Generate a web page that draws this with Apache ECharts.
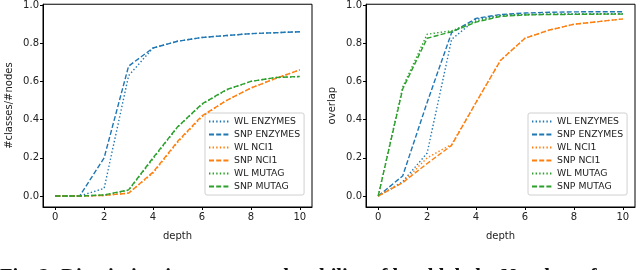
<!DOCTYPE html>
<html>
<head>
<meta charset="utf-8">
<script src="https://cdn.jsdelivr.net/npm/echarts@6/dist/echarts.min.js"></script>
<style>
html,body{margin:0;padding:0;background:#fff;}
#c{width:640px;height:270px;}
</style>
</head>
<body>
<div id="c"></div>
<script>
// ---- data ----
const depths = [0, 1, 2, 3, 4, 5, 6, 7, 8, 9, 10];
const xTicks = [0, 2, 4, 6, 8, 10];
const yTicks = [0, 0.2, 0.4, 0.6, 0.8, 1.0];
const seriesNames = ['WL ENZYMES', 'SNP ENZYMES', 'WL NCI1', 'SNP NCI1', 'WL MUTAG', 'SNP MUTAG'];
const leftYName = '#classes/#nodes';
const rightYName = 'overlap';
const xName = 'depth';
const caption = 'Fig. 2: Discriminative power and stability of local labels: Number of';

// left panel: #classes/#nodes
const wlEnzA  = [0, 0, 0.04, 0.63, 0.775, 0.81, 0.83, 0.84, 0.85, 0.855, 0.86];
const snpEnzA = [0, 0, 0.20, 0.68, 0.775, 0.81, 0.83, 0.84, 0.85, 0.855, 0.86];
const wlNciA  = [0, 0, 0.003, 0.015, 0.12, 0.28, 0.415, 0.50, 0.565, 0.615, 0.66];
const snpNciA = [0, 0, 0.003, 0.015, 0.125, 0.285, 0.42, 0.50, 0.565, 0.615, 0.66];
const wlMutA  = [0, 0, 0.005, 0.03, 0.195, 0.36, 0.48, 0.555, 0.60, 0.62, 0.625];
const snpMutA = [0, 0, 0.006, 0.032, 0.20, 0.362, 0.482, 0.557, 0.60, 0.62, 0.626];

// right panel: overlap
const wlEnzB  = [0, 0.075, 0.225, 0.82, 0.925, 0.945, 0.95, 0.952, 0.953, 0.954, 0.955];
const snpEnzB = [0, 0.105, 0.49, 0.855, 0.93, 0.95, 0.958, 0.962, 0.964, 0.965, 0.965];
const wlNciB  = [0, 0.07, 0.20, 0.27, 0.49, 0.71, 0.826, 0.869, 0.899, 0.913, 0.927];
const snpNciB = [0, 0.07, 0.17, 0.265, 0.49, 0.71, 0.826, 0.869, 0.899, 0.913, 0.927];
const wlMutB  = [0, 0.57, 0.847, 0.865, 0.915, 0.945, 0.95, 0.952, 0.952, 0.953, 0.953];
const snpMutB = [0, 0.56, 0.826, 0.86, 0.91, 0.94, 0.948, 0.95, 0.951, 0.952, 0.952];

const leftData = [wlEnzA, snpEnzA, wlNciA, snpNciA, wlMutA, snpMutA];
const rightData = [wlEnzB, snpEnzB, wlNciB, snpNciB, wlMutB, snpMutB];

// ---- styles ----
const colors = ['#1f77b4', '#1f77b4', '#ff7f0e', '#ff7f0e', '#2ca02c', '#2ca02c'];
const dotted = [1.4, 2.2];
const dashed = [5, 2.2];
const dashTypes = [dotted, dashed, dotted, dashed, dotted, dashed];
const FONT = 'DejaVu Sans';
const txt = '#222';

function mkX(gi) {
  return {
    type: 'value', gridIndex: gi, min: -0.5, max: 10.5,
    name: xName, nameLocation: 'middle', nameGap: 24,
    nameTextStyle: {fontFamily: FONT, fontSize: 10, color: txt},
    axisLine: {show: true, onZero: false, lineStyle: {color: '#000', width: 1}},
    axisTick: {show: true, length: 3, customValues: xTicks, lineStyle: {color: '#000'}},
    axisLabel: {customValues: xTicks, fontFamily: FONT, fontSize: 10, color: txt, margin: 5},
    splitLine: {show: false}
  };
}
function mkY(gi, name) {
  return {
    type: 'value', gridIndex: gi, min: -0.0575, max: 1.004,
    name: name, nameLocation: 'middle', nameGap: 29, nameRotate: 90,
    nameTextStyle: {fontFamily: FONT, fontSize: 10, color: txt},
    axisLine: {show: true, onZero: false, lineStyle: {color: '#000', width: 1}},
    axisTick: {show: true, length: 3, customValues: yTicks, lineStyle: {color: '#000'}},
    axisLabel: {customValues: yTicks, fontFamily: FONT, fontSize: 10, color: txt, margin: 4,
      formatter: v => v.toFixed(1)},
    splitLine: {show: false}
  };
}

const series = [];
[leftData, rightData].forEach((set, gi) => {
  set.forEach((vals, i) => {
    series.push({
      type: 'line', name: seriesNames[i], xAxisIndex: gi, yAxisIndex: gi,
      data: depths.map((d, k) => [d, vals[k]]),
      symbol: 'none', showSymbol: false, animation: false,
      lineStyle: {color: colors[i], width: 1.4, type: dashTypes[i]},
      itemStyle: {color: colors[i]},
      z: 2 + i
    });
  });
});

function mkLegend(left) {
  return {
    orient: 'vertical', left: left, top: 113,
    data: seriesNames,
    itemWidth: 20, itemHeight: 10, itemGap: 4,
    padding: [4, 4, 4, 3],
    backgroundColor: '#fff', borderColor: '#d0d0d0', borderWidth: 1, borderRadius: 2,
    itemStyle: {color: 'transparent', borderColor: 'transparent', borderWidth: 0, opacity: 0},
    textStyle: {fontFamily: FONT, fontSize: 9.3, color: txt},
    selectedMode: false
  };
}

const chart = echarts.init(document.getElementById('c'), null, {renderer: 'canvas'});
chart.setOption({
  animation: false,
  backgroundColor: '#fff',
  grid: [
    {left: 43, top: 4, width: 269, height: 203, show: true, borderColor: '#000', borderWidth: 1, backgroundColor: 'transparent'},
    {left: 366, top: 4, width: 269, height: 203, show: true, borderColor: '#000', borderWidth: 1, backgroundColor: 'transparent'}
  ],
  xAxis: [mkX(0), mkX(1)],
  yAxis: [mkY(0, leftYName), mkY(1, rightYName)],
  legend: [mkLegend(205), mkLegend(528)],
  series: series,
  graphic: [{
    type: 'text', left: 0, top: 267, silent: true,
    style: {text: caption, font: 'bold 20.6px "Liberation Serif"', fill: '#111'}
  }]
});
</script>
</body>
</html>
